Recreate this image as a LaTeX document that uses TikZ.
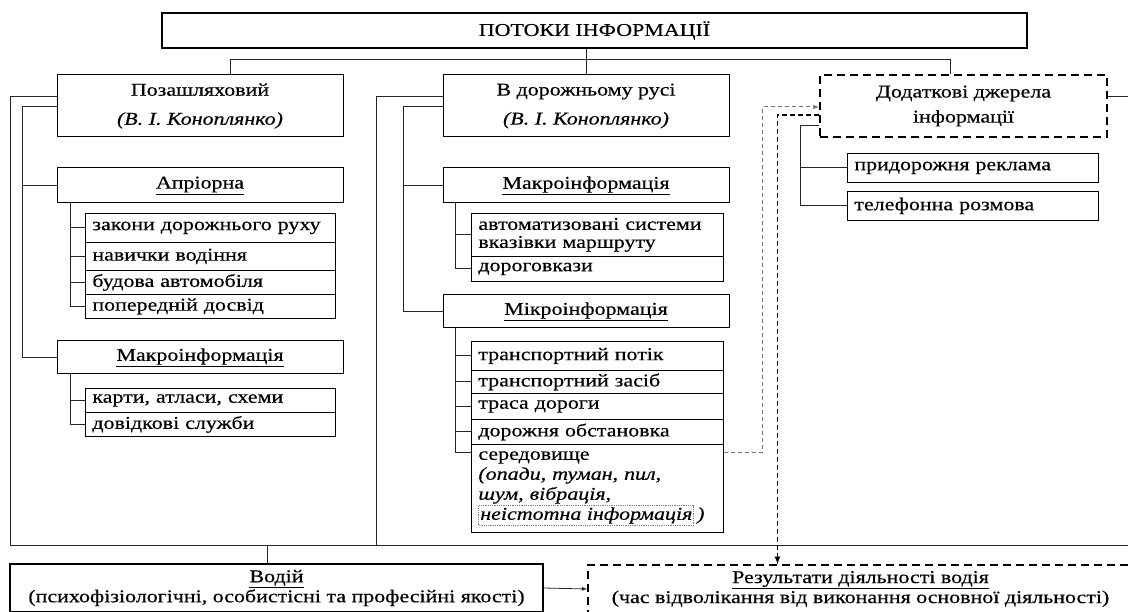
\documentclass[tikz,border=0pt]{standalone}
\usepackage{fontspec}
\setmainfont{Liberation Serif}[FakeStretch=1.22, FakeBold=0.4]
\usetikzlibrary{arrows}

\newcommand{\noisebox}[1]{\tikz[baseline=(noise.base)]\node[draw=gray, densely dotted, line width=0.8pt, inner sep=1.5pt, text width={}, minimum height=0pt, minimum width=0pt] (noise) {\textit{#1}};}

\begin{document}
\begin{tikzpicture}[x=1pt, y=-1pt, font=\fontsize{18}{20}\selectfont,
  topbox/.style={draw, line width=1.4pt, minimum width=865pt, minimum height=35pt},
  mainbox/.style={draw, line width=1pt, minimum width=286pt, minimum height=62pt, align=center},
  subbox/.style={draw, line width=1pt, minimum width=286pt, minimum height=35pt, align=center},
  item/.style={draw, line width=0.8pt, anchor=north west, text width=236pt, inner xsep=7pt, inner ysep=0pt, align=left},
  dashbox/.style={draw, line width=1.6pt, dash pattern=on 8pt off 5pt, align=center},
  conn/.style={line width=0.8pt, draw=black!85},
  feedline/.style={line width=1pt, draw=black!55, dash pattern=on 4pt off 3pt, -latex},
  outline/.style={line width=1.6pt, dash pattern=on 5pt off 3pt, -latex}]
\useasboundingbox (0,0) rectangle (1128,612);

% header
\node[topbox] (flows) at (594.5,30.5) {ПОТОКИ ІНФОРМАЦІЇ};

% main sources
\node[mainbox] (offroad) at (200,106) {Позашляховий\\[9pt]\textit{(В. І. Коноплянко)}};
\node[mainbox] (onroad) at (586,106) {В дорожньому русі\\[9pt]\textit{(В. І. Коноплянко)}};
\node[dashbox, minimum width=287pt, minimum height=62pt] (extra) at (963.5,106) {Додаткові джерела\\[5pt]інформації};

% groups
\node[subbox] (apriori) at (200,185.5) {\underline{Апріорна}};
\node[subbox, minimum height=33pt] (macroL) at (200,357.5) {\underline{Макроінформація}};
\node[subbox] (macroR) at (586,185.5) {\underline{Макроінформація}};
\node[subbox, minimum height=33pt] (micro) at (586,311.5) {\underline{Мікроінформація}};

% items, left column
\node[item, minimum height=29pt] (law) at (85,213) {закони дорожнього руху};
\node[item, minimum height=28pt] (skill) at (85,242) {навички водіння};
\node[item, minimum height=24pt] (car) at (85,270) {будова автомобіля};
\node[item, minimum height=24pt] (exper) at (85,294) {попередній досвід};
\node[item, minimum height=24pt] (maps) at (85,388) {карти, атласи, схеми};
\node[item, minimum height=24pt] (help) at (85,412) {довідкові служби};

% items, middle column
\node[item, text width=238pt, minimum height=43pt, font=\fontsize{18}{18}\selectfont] (nav) at (471,213) {автоматизовані системи\\вказівки маршруту};
\node[item, text width=238pt, minimum height=25pt] (signs) at (471,256) {дороговкази};
\node[item, text width=238pt, minimum height=29pt] (stream) at (471,341) {транспортний потік};
\node[item, text width=238pt, minimum height=23pt] (vehicle) at (471,370) {транспортний засіб};
\node[item, text width=238pt, minimum height=26pt] (route) at (471,393) {траса дороги};
\node[item, text width=238pt, minimum height=25pt] (situation) at (471,419) {дорожня обстановка};
\node[item, text width=238pt, minimum height=88pt] (environ) at (471,444) {середовище\\\textit{(опади, туман, пил,}\\\textit{шум, вібрація,}\\\noisebox{неістотна інформація}\,\textit{)}};

% items, right column
\node[item, text width=237pt, minimum height=29pt] (ads) at (847,153) {придорожня реклама};
\node[item, text width=237pt, minimum height=29pt] (phone) at (847,191) {телефонна розмова};

% bottom
\coordinate (bar west) at (10,545);
\coordinate (bar east) at (1128,545);
\node[draw, line width=1.2pt, minimum width=533pt, minimum height=48pt, align=center] (driver) at (276.5,588) {\underline{Водій}\\(психофізіологічні, особистісні та професійні якості)};
\node[dashbox, minimum width=545pt, minimum height=48pt] (result) at (860.5,589) {\underline{Результати діяльності водія}\\(час відволікання від виконання основної діяльності)};

% connectors
\draw[conn] (onroad.north) -- (onroad.north |- flows.south);
\draw[conn] ([xshift=30pt]offroad.north) -- ++(0,-15) -| ([xshift=-13pt]extra.north);
\draw[conn] (bar west) -- (bar east);
\draw[conn] ([yshift=10pt]offroad.west) -| (bar west);
\draw[conn] ([yshift=10pt]onroad.west) -| ([xshift=-66pt]onroad.west |- bar west);
\draw[conn] ([yshift=10pt]extra.east) -- ++(30,0);
\draw[conn] ([xshift=-9pt]driver.north) -- ([xshift=-9pt]driver.north |- bar west);

\draw[conn] (offroad.west) -| ([xshift=-34pt]macroL.west) -- (macroL.west);
\draw[conn] (apriori.west) -- ++(-34,0);
\draw[conn] ([xshift=-130pt]apriori.south) |- (exper.west);
\foreach \n in {law,skill,car}
  \draw[conn] (\n.west) -- ++(-15,0);
\draw[conn] ([xshift=-130pt]macroL.south) |- (help.west);
\draw[conn] (maps.west) -- ++(-15,0);

\draw[conn] (onroad.west) -| ([xshift=-39pt]micro.west) -- (micro.west);
\draw[conn] (macroR.west) -- ++(-39,0);
\draw[conn] ([xshift=-131pt]macroR.south) |- (signs.west);
\draw[conn] (nav.west) -- ++(-16,0);
\draw[conn] ([xshift=-131pt]micro.south) |- ([yshift=-8pt]environ.north west);
\foreach \n in {stream,vehicle,route,situation}
  \draw[conn] (\n.west) -- ++(-16,0);

\draw[conn] ([yshift=-19pt]extra.west) -- ++(-19,0) |- (phone.west);
\draw[conn] (ads.west) -- ++(-46,0);

% flows between sources and results
\draw[feedline] ([yshift=-8pt]environ.north east) -- ++(39,0) |- ([yshift=-1pt]extra.west);
\draw[outline] ([yshift=-9pt]extra.west) -| ([xshift=-83pt]result.north);
\draw[conn, -latex] (driver.east) -- (result.west);
\end{tikzpicture}
\end{document}
